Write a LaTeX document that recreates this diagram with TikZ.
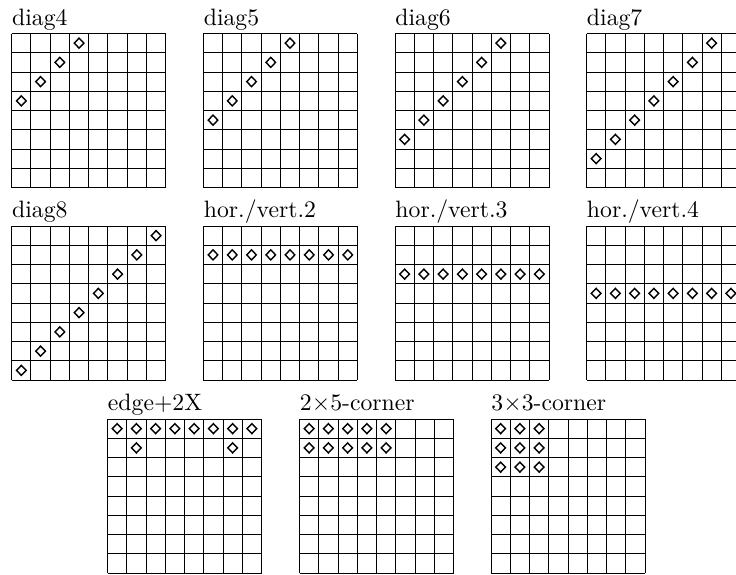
\documentclass[tikz,border=0pt]{standalone}
\begin{document}
\begin{tikzpicture}[x=0.4219pt,y=-0.4219pt,
  gridline/.style={line width=0.4pt},
  dmd/.style={line width=0.6pt},
  lbl/.style={anchor=base west, inner sep=0pt}]
\useasboundingbox (0,0) rectangle (736,574);
\clip (0,0) rectangle (736,574);
\newcommand\myboard[5]{%
 \begin{scope}[shift={(#1,#2)}]
  \foreach \i in {0,...,8} {
    \draw[gridline] (\i*19.25,0) -- (\i*19.25,154);
    \draw[gridline] (0,\i*19.25) -- (154,\i*19.25);
  }
  \node[lbl] (#5) at (0,-8.5) {#3};
  \foreach \r/\c in {#4} {
    \draw[dmd] (\c*19.25+9.625-4.8,\r*19.25+9.625) -- ++(4.8,-5) -- ++(4.8,5) -- ++(-4.8,5) -- cycle;
  }
 \end{scope}}
\myboard{11.7}{33.5}{diag4}{3/0,2/1,1/2,0/3}{d4}
\myboard{203.4}{33.5}{diag5}{4/0,3/1,2/2,1/3,0/4}{d5}
\myboard{395}{33.5}{diag6}{5/0,4/1,3/2,2/3,1/4,0/5}{d6}
\myboard{586.5}{33.5}{diag7}{6/0,5/1,4/2,3/3,2/4,1/5,0/6}{d7}
\myboard{11.7}{226}{diag8}{7/0,6/1,5/2,4/3,3/4,2/5,1/6,0/7}{d8}
\myboard{203.4}{226}{hor./vert.2}{1/0,1/1,1/2,1/3,1/4,1/5,1/6,1/7}{h2}
\myboard{395}{226}{hor./vert.3}{2/0,2/1,2/2,2/3,2/4,2/5,2/6,2/7}{h3}
\myboard{586.5}{226}{hor./vert.4}{3/0,3/1,3/2,3/3,3/4,3/5,3/6,3/7}{h4}
\myboard{107.5}{419}{edge+2X}{0/0,0/1,0/2,0/3,0/4,0/5,0/6,0/7,1/1,1/6}{e2}
\myboard{299.5}{419}{2$\times$5-corner}{0/0,0/1,0/2,0/3,0/4,1/0,1/1,1/2,1/3,1/4}{c25}
\myboard{491}{419}{3$\times$3-corner}{0/0,0/1,0/2,1/0,1/1,1/2,2/0,2/1,2/2}{c33}
\end{tikzpicture}
\end{document}
